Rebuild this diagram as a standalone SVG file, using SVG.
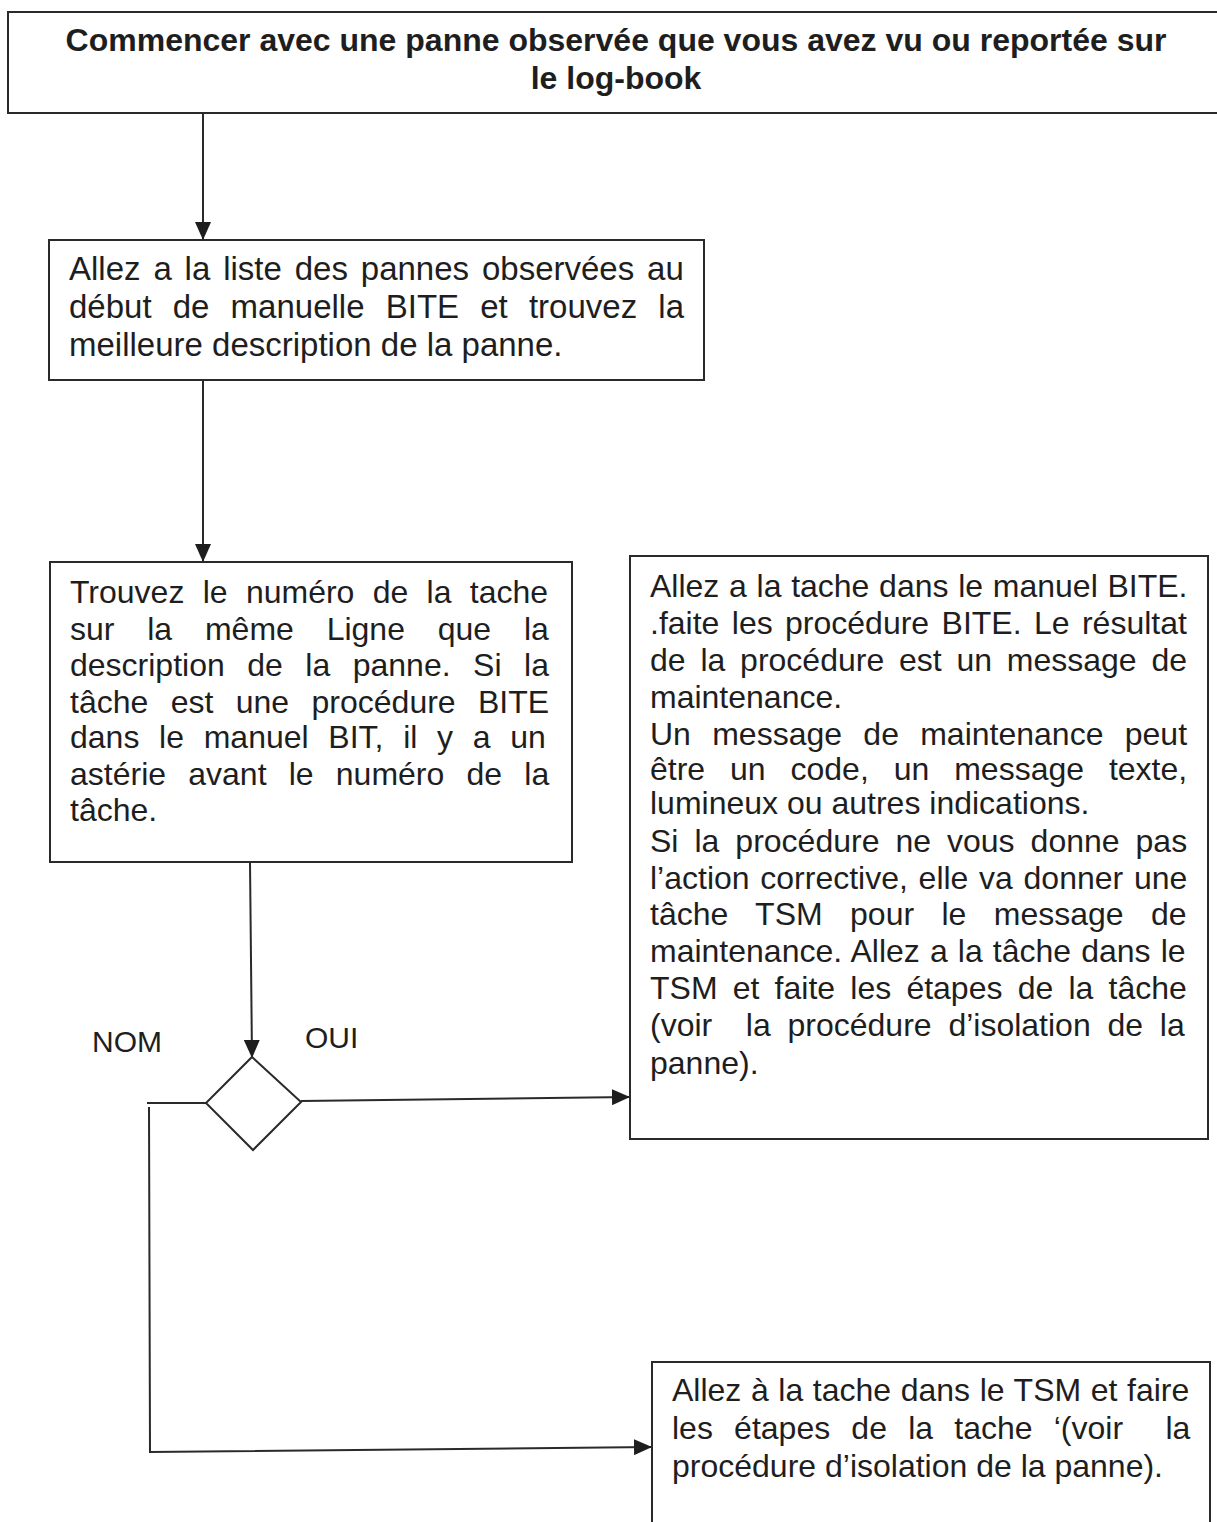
<svg xmlns="http://www.w3.org/2000/svg" width="1217" height="1522" viewBox="0 0 1217 1522">
  <style>
    .box { fill: #ffffff; stroke: #2a2a2a; stroke-width: 2; }
    .edge { fill: none; stroke: #2a2a2a; stroke-width: 2; }
    .t { font-family: "Liberation Sans", Arial, sans-serif; font-size: 32px; fill: #1e1e1e; }
    .t33 { font-size: 33px; }
    .lbl { font-family: "Liberation Sans", Arial, sans-serif; font-size: 30px; fill: #1e1e1e; }
    .tb { font-family: "Liberation Sans", Arial, sans-serif; font-size: 32px; font-weight: bold; fill: #1e1e1e; }
    .pre { white-space: pre; }
  </style>
  <defs>
    <marker id="arrow" viewBox="0 0 18 16" refX="18" refY="8" markerWidth="18" markerHeight="16" markerUnits="userSpaceOnUse" orient="auto">
      <path d="M0,0 L18,8 L0,16 z" fill="#1e1e1e"/>
    </marker>
  </defs>
  <rect width="1217" height="1522" fill="#ffffff"/>

  <!-- connectors -->
  <g id="connectors">
    <line class="edge" x1="203" y1="113" x2="203" y2="240" marker-end="url(#arrow)"/>
    <line class="edge" x1="203" y1="380" x2="203" y2="562" marker-end="url(#arrow)"/>
    <line class="edge" x1="250" y1="862" x2="252" y2="1058" marker-end="url(#arrow)"/>
    <line class="edge" x1="301" y1="1101" x2="630" y2="1097" marker-end="url(#arrow)"/>
    <line class="edge" x1="206" y1="1103" x2="147" y2="1103"/>
    <polyline class="edge" points="149,1107 150,1452 652,1447" marker-end="url(#arrow)"/>
  </g>

  <!-- start -->
  <g id="start">
    <rect class="box" x="8" y="12" width="1230" height="101"/>
    <text class="tb" x="616" y="51" text-anchor="middle">Commencer avec une panne observée que vous avez vu ou reportée sur</text>
    <text class="tb" x="616" y="89" text-anchor="middle">le log-book</text>
  </g>

  <!-- step: observed faults list -->
  <g id="fault-list">
    <rect class="box" x="49" y="240" width="655" height="140"/>
    <text class="t t33" x="69" y="280" word-spacing="3.7">Allez a la liste des pannes observées au</text>
    <text class="t t33" x="69" y="318" word-spacing="12">début de manuelle BITE et trouvez la</text>
    <text class="t t33" x="69" y="356">meilleure description de la panne.</text>
  </g>

  <!-- step: task number -->
  <g id="task-number">
    <rect class="box" x="50" y="562" width="522" height="300"/>
    <text class="t" x="70" y="603" word-spacing="9.4">Trouvez le numéro de la tache</text>
    <text class="t" x="70" y="640" word-spacing="23.9">sur la même Ligne que la</text>
    <text class="t" x="70" y="676" word-spacing="13.6">description de la panne. Si la</text>
    <text class="t" x="70" y="713" word-spacing="13.5">tâche est une procédure BITE</text>
    <text class="t" x="70" y="748" word-spacing="10.8">dans le manuel BIT, il y a un</text>
    <text class="t" x="70" y="785" word-spacing="13.3">astérie avant le numéro de la</text>
    <text class="t" x="70" y="821">tâche.</text>
  </g>

  <!-- decision -->
  <g id="decision">
    <polygon class="box" points="252,1057 301,1102 253,1150 206,1103"/>
    <text class="lbl" x="92" y="1052">NOM</text>
    <text class="lbl" x="305" y="1048">OUI</text>
  </g>

  <!-- yes branch: BITE procedure -->
  <g id="bite-procedure">
    <rect class="box" x="630" y="556" width="578" height="583"/>
    <text class="t" x="650" y="597" word-spacing="0.8">Allez a la tache dans le manuel BITE.</text>
    <text class="t" x="650" y="634" word-spacing="3.5">.faite les procédure BITE. Le résultat</text>
    <text class="t" x="650" y="671" word-spacing="5.9">de la procédure est un message de</text>
    <text class="t" x="650" y="708">maintenance.</text>
    <text class="t" x="650" y="745" word-spacing="12.4">Un message de maintenance peut</text>
    <text class="t" x="650" y="780" word-spacing="16">être un code, un message texte,</text>
    <text class="t" x="650" y="814">lumineux ou autres indications.</text>
    <text class="t" x="650" y="852" word-spacing="7.1">Si la procédure ne vous donne pas</text>
    <text class="t" x="650" y="889" word-spacing="1.8">l’action corrective, elle va donner une</text>
    <text class="t" x="650" y="925" word-spacing="18.5">tâche TSM pour le message de</text>
    <text class="t" x="650" y="962" word-spacing="1.2">maintenance. Allez a la tâche dans le</text>
    <text class="t" x="650" y="999" word-spacing="6.3">TSM et faite les étapes de la tâche</text>
    <text class="t pre" x="650" y="1036" word-spacing="7.9">(voir  la procédure d’isolation de la</text>
    <text class="t" x="650" y="1074">panne).</text>
  </g>

  <!-- no branch: TSM task -->
  <g id="tsm-task">
    <rect class="box" x="652" y="1362" width="558" height="175"/>
    <text class="t" x="672" y="1401" word-spacing="0.7">Allez à la tache dans le TSM et faire</text>
    <text class="t pre" x="672" y="1439" word-spacing="12.3">les étapes de la tache ‘(voir  la</text>
    <text class="t" x="672" y="1477">procédure d’isolation de la panne).</text>
  </g>
</svg>
